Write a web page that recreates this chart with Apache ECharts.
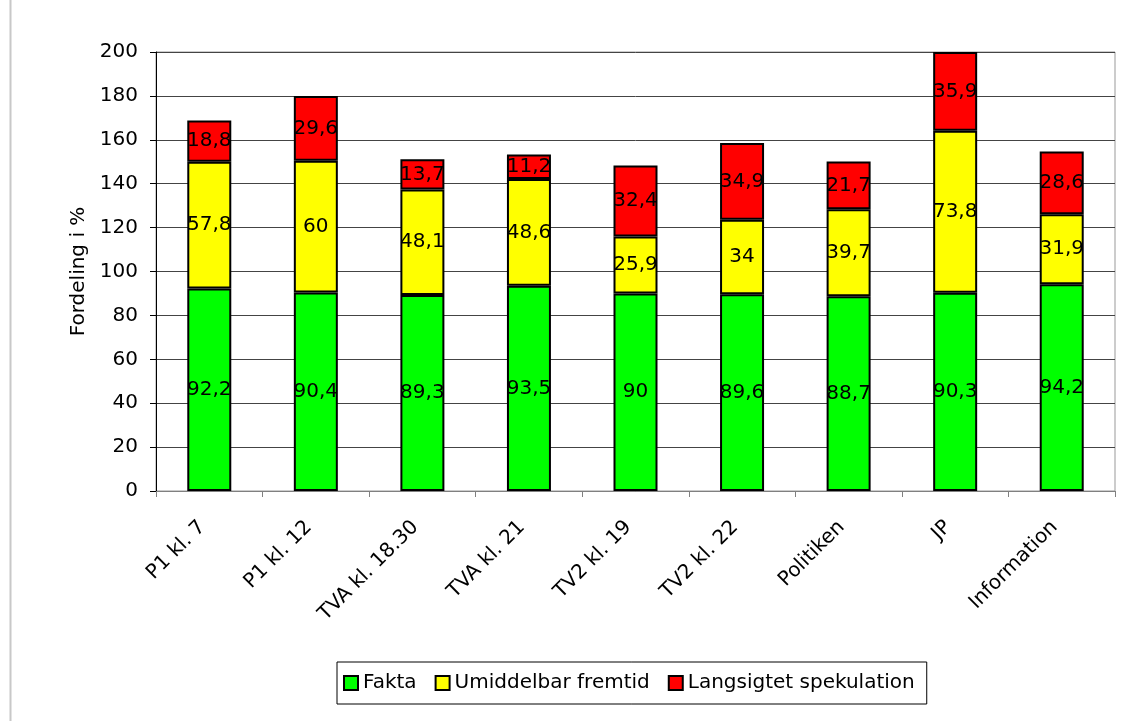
<!DOCTYPE html>
<html>
<head>
<meta charset="utf-8">
<script src="https://cdn.jsdelivr.net/npm/echarts@6/dist/echarts.min.js"></script>
<style>
  html, body { margin: 0; padding: 0; background: #fff; }
  #chart { width: 1138px; height: 721px; }
</style>
</head>
<body>
<div id="chart"></div>
<script>
// Kategorier (medier / udsendelser)
const categories = ['P1 kl. 7', 'P1 kl. 12', 'TVA kl. 18.30', 'TVA kl. 21', 'TV2 kl. 19', 'TV2 kl. 22', 'Politiken', 'JP', 'Information'];

// Fordeling i % pr. kategori
const fakta = [92.2, 90.4, 89.3, 93.5, 90, 89.6, 88.7, 90.3, 94.2];
const umiddelbar = [57.8, 60, 48.1, 48.6, 25.9, 34, 39.7, 73.8, 31.9];
const langsigtet = [18.8, 29.6, 13.7, 11.2, 32.4, 34.9, 21.7, 35.9, 28.6];

const seriesNames = ['Fakta', 'Umiddelbar fremtid', 'Langsigtet spekulation'];
const seriesColors = ['#00ff00', '#ffff00', '#ff0000'];

const FONT = 'DejaVu Sans';
const FS = 20;

function barSeries(name, data, color) {
  return {
    name: name,
    type: 'bar',
    stack: 'total',
    data: data,
    barWidth: 44,
    itemStyle: { color: color, borderColor: '#000', borderWidth: 2 },
    label: {
      show: true,
      position: 'inside',
      color: '#000',
      fontFamily: FONT,
      fontSize: FS,
      formatter: p => String(p.value).replace('.', ',')
    },
    emphasis: { disabled: true }
  };
}

const chart = echarts.init(document.getElementById('chart'), null, { renderer: 'canvas' });
chart.setOption({
  animation: false,
  backgroundColor: '#fff',
  textStyle: { fontFamily: FONT },
  grid: { left: 156, right: 23, top: 52, bottom: 230, show: true, borderColor: '#999', borderWidth: 1 },
  legend: {
    bottom: 17,
    left: 337,
    data: seriesNames,
    itemWidth: 14,
    itemHeight: 14,
    itemGap: 18,
    padding: [11, 12, 11, 6],
    borderColor: '#000',
    borderWidth: 1,
    icon: 'rect',
    textStyle: { fontFamily: FONT, fontSize: FS, color: '#000' },
    itemStyle: { borderColor: '#000', borderWidth: 2 }
  },
  xAxis: {
    type: 'category',
    data: categories,
    axisLine: { lineStyle: { color: '#808080', width: 1 } },
    axisTick: { show: true, length: 6, lineStyle: { color: '#808080' } },
    axisLabel: {
      rotate: 45,
      interval: 0,
      margin: 26,
      color: '#000',
      fontFamily: FONT,
      fontSize: FS,
      padding: [0, 10, 0, 0]
    },
    splitLine: { show: false }
  },
  yAxis: {
    type: 'value',
    min: 0,
    max: 200,
    interval: 20,
    name: 'Fordeling i %',
    nameLocation: 'middle',
    nameGap: 67,
    nameTextStyle: { fontFamily: FONT, fontSize: FS, color: '#000' },
    axisLine: { show: true, lineStyle: { color: '#000', width: 1 } },
    axisTick: { show: true, length: 6, lineStyle: { color: '#000' } },
    axisLabel: { color: '#000', fontFamily: FONT, fontSize: FS, margin: 18 },
    splitLine: { show: true, lineStyle: { color: '#444', width: 1 } }
  },
  series: [
    barSeries(seriesNames[0], fakta, seriesColors[0]),
    barSeries(seriesNames[1], umiddelbar, seriesColors[1]),
    barSeries(seriesNames[2], langsigtet, seriesColors[2])
  ],
  graphic: [
    { type: 'line', shape: { x1: 10.5, y1: 0, x2: 10.5, y2: 721 }, style: { stroke: '#c8c8c8', lineWidth: 2 } }
  ]
});
</script>
</body>
</html>
